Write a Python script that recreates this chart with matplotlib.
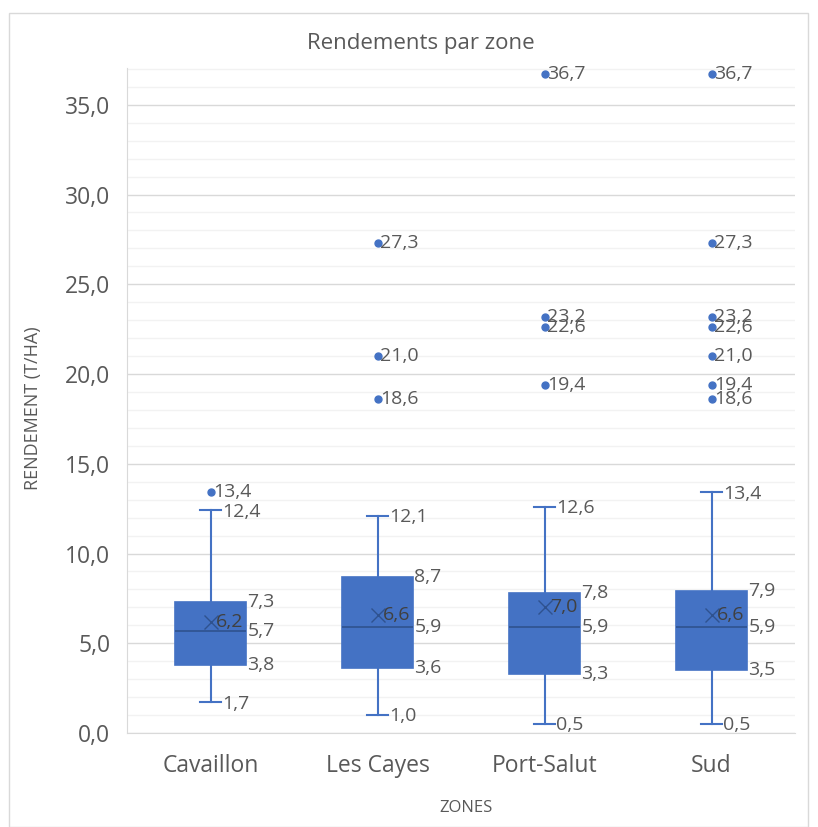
import matplotlib.pyplot as plt
from matplotlib.patches import Rectangle

# --- data ------------------------------------------------------------------
zones = ["Cavaillon", "Les Cayes", "Port-Salut", "Sud"]
whisker_low = [1.7, 1.0, 0.5, 0.5]
q1 = [3.8, 3.6, 3.3, 3.5]
median = [5.7, 5.9, 5.9, 5.9]
q3 = [7.3, 8.7, 7.8, 7.9]
whisker_high = [12.4, 12.1, 12.6, 13.4]
means = [6.2, 6.6, 7.0, 6.6]
outliers = [
    [13.4],
    [18.6, 21.0, 27.3],
    [19.4, 22.6, 23.2, 36.7],
    [18.6, 19.4, 21.0, 22.6, 23.2, 27.3, 36.7],
]
yticks = [0, 5, 10, 15, 20, 25, 30, 35]

BLUE = "#4472C4"
DARK_BLUE = "#2F528F"
TEXT = "#595959"
FONT = "Open Sans"


def fr(v):
    return f"{v:.1f}".replace(".", ",")


W, H = 818, 827
fig = plt.figure(figsize=(W / 100, H / 100), dpi=100)
fig.patches.append(Rectangle((9 / W, 0), (808 - 9) / W, (H - 13) / H,
                             transform=fig.transFigure, fill=False,
                             edgecolor="#D9D9D9", linewidth=1.0))

ax = fig.add_axes([127 / W, (H - 733) / H, (795 - 127) / W, (733 - 68) / H])

stats = []
for i, z in enumerate(zones):
    stats.append({
        "label": z, "whislo": whisker_low[i], "q1": q1[i], "med": median[i],
        "q3": q3[i], "whishi": whisker_high[i], "mean": means[i],
        "fliers": outliers[i],
    })

pos = list(range(1, len(zones) + 1))
ax.bxp(stats, positions=pos, widths=0.425, patch_artist=True, showmeans=True,
       boxprops=dict(facecolor=BLUE, edgecolor=BLUE, linewidth=1.2),
       medianprops=dict(color=DARK_BLUE, linewidth=1.2),
       whiskerprops=dict(color=BLUE, linewidth=1.5),
       capprops=dict(color=BLUE, linewidth=1.5), capwidths=0.12,
       meanprops=dict(marker="x", markeredgecolor=DARK_BLUE, markersize=10,
                      markeredgewidth=1.0),
       flierprops=dict(marker="o", markerfacecolor=BLUE, markeredgecolor=BLUE,
                       markersize=5))

# data labels
lab = dict(fontsize=14, color=TEXT, family=FONT, va="center", ha="left",
           textcoords="offset points")
for i, x in enumerate(pos):
    for v in (q1[i], median[i], q3[i]):
        ax.annotate(fr(v), (x + 0.2125, v), xytext=(1, 0), **lab)
    for v in (whisker_low[i], whisker_high[i]):
        ax.annotate(fr(v), (x + 0.06, v), xytext=(1, -1), **lab)
    ax.annotate(fr(means[i]), (x, means[i]), xytext=(4, 0),
                **{**lab, "color": "#404040"})
    for v in outliers[i]:
        ax.annotate(fr(v), (x, v), xytext=(2, 0), **lab)

ax.set_xlim(0.5, 4.5)
ax.set_ylim(0, 37.05)
ax.set_yticks(yticks)
ax.set_yticklabels([fr(v) for v in yticks])
ax.set_yticks(range(0, 38), minor=True)
ax.set_xticks(pos)
ax.set_xticklabels(zones)
ax.tick_params(axis="both", length=0, colors=TEXT, labelsize=16.5)
ax.tick_params(axis="x", pad=15)
ax.tick_params(axis="y", pad=12)
ax.tick_params(axis="y", which="minor", length=0)
for t in ax.get_xticklabels() + ax.get_yticklabels():
    t.set_family(FONT)

ax.grid(axis="y", which="major", color="#D9D9D9", linewidth=1.0)
ax.grid(axis="y", which="minor", color="#F2F2F2", linewidth=1.0)
ax.set_axisbelow(True)
for s in ("top", "right"):
    ax.spines[s].set_visible(False)
for s in ("left", "bottom"):
    ax.spines[s].set_color("#D9D9D9")

fig.text(421 / W, 1 - 43 / H, "Rendements par zone", fontsize=16, color=TEXT,
         family=FONT, ha="center", va="center")
ax.set_xlabel("ZONES", fontsize=12, color=TEXT, family=FONT, va="center")
ax.xaxis.set_label_coords(0.507, (733 - 808) / (733 - 68))
ax.set_ylabel("RENDEMENT (T/HA)", fontsize=13, color=TEXT, family=FONT, va="center")
ax.yaxis.set_label_coords((33 - 127) / (795 - 127), (733 - 408) / (733 - 68))

fig.savefig("out.png", dpi=100)
